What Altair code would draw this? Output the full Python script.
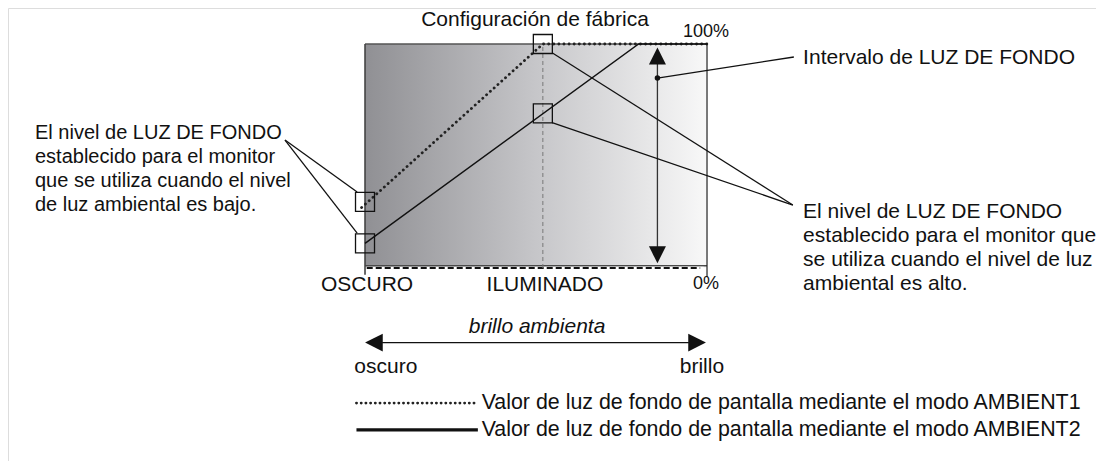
import altair as alt
import pandas as pd

# ---------------- data (diagram units: ambient 0-100 on x, backlight 0-100 % on y) ----------------
ambient1_x = [-1, 52, 100]
ambient1_y = [27, 100, 100]
ambient2_x = [0, 80, 100]
ambient2_y = [11, 100, 100]
iluminado_x = 52
marker_x = [0, 0, 52, 52]
marker_y = [29.5, 11, 100, 69]
range_x = 85.5
range_lo, range_hi = 9.4, 91.1

title_text = "Configuración de fábrica"
pct_labels = ["100%", "0%"]
axis_labels = ["OSCURO", "ILUMINADO"]
left_lines = ["El nivel de LUZ DE FONDO", "establecido para el monitor",
              "que se utiliza cuando el nivel", "de luz ambiental es bajo."]
right_lines = ["El nivel de LUZ DE FONDO", "establecido para el monitor que",
               "se utiliza cuando el nivel de luz", "ambiental es alto."]
range_label = "Intervalo de LUZ DE FONDO"
ambient_title = "brillo ambienta"
ambient_ends = ["oscuro", "brillo"]
legend_texts = ["Valor de luz de fondo de pantalla mediante el modo AMBIENT1",
                "Valor de luz de fondo de pantalla mediante el modo AMBIENT2"]

# ---------------- layout ----------------
FONT = "Liberation Sans"
xs = alt.Scale(domain=[-104.39, 213.74], nice=False, zero=False)
ys = alt.Scale(domain=[-86.16, 116.07], nice=False, zero=False)
X = lambda f="x": alt.X(f"{f}:Q", scale=xs, axis=None)
Y = lambda f="y": alt.Y(f"{f}:Q", scale=ys, axis=None)
LINE_STEP = 10.71  # one text line (24 px) in y units


def rules(segs, **style):
    df = pd.DataFrame(segs, columns=["x", "y", "x2", "y2"])
    return alt.Chart(df).mark_rule(**style).encode(
        x=X(), y=Y(), x2="x2:Q", y2="y2:Q")


def texts(rows, **style):
    df = pd.DataFrame(rows, columns=["x", "y", "t"])
    base = dict(font=FONT, fontSize=21, color="#111", baseline="middle")
    base.update(style)
    return alt.Chart(df).mark_text(**base).encode(x=X(), y=Y(), text="t:N")


def points(rows, **style):
    df = pd.DataFrame(rows, columns=["x", "y"])
    return alt.Chart(df).mark_point(**style).encode(x=X(), y=Y())


layers = []

# gradient panel
panel = pd.DataFrame({"x": [0], "x2": [100], "y": [0], "y2": [100]})
layers.append(alt.Chart(panel).mark_rect(
    color=alt.Gradient(gradient="linear", x1=0, x2=1, y1=0, y2=0,
                       stops=[alt.GradientStop(offset=0, color="#909094"),
                              alt.GradientStop(offset=0.5, color="#c6c6c9"),
                              alt.GradientStop(offset=1, color="#f8f8f8")])
).encode(x=X(), x2="x2:Q", y=Y(), y2="y2:Q"))

# panel frame
layers.append(rules([[0, 1.0, 100, 1.0]], color="#4a4a4a", strokeWidth=1.5))
layers.append(rules([[0, 0, 99, 0]], color="white", strokeWidth=2.5))
layers.append(rules([[0.5, 0, 98, 0]], color="#111", strokeWidth=2.2, strokeDash=[6, 3]))
layers.append(rules([[0, 100, 100, 100]], color="#555", strokeWidth=1.5))
layers.append(rules([[0, -3, 0, 100]], color="#444", strokeWidth=1.6))
layers.append(rules([[100, -4, 100, 100]], color="#222", strokeWidth=1.2))
layers.append(rules([[iluminado_x, 0, iluminado_x, 100]], color="#777", strokeWidth=1, strokeDash=[4, 3]))

# curves
c1 = pd.DataFrame({"x": ambient1_x, "y": ambient1_y, "o": range(len(ambient1_x))})
c2 = pd.DataFrame({"x": ambient2_x, "y": ambient2_y, "o": range(len(ambient2_x))})
layers.append(alt.Chart(c1).mark_line(color="#222", strokeWidth=2.8, strokeDash=[0.1, 5],
                                      strokeCap="round").encode(x=X(), y=Y(), order="o:Q"))
layers.append(alt.Chart(c2).mark_line(color="#111", strokeWidth=1.4).encode(x=X(), y=Y(), order="o:Q"))

# boxes
mk = pd.DataFrame({"x": marker_x, "y": marker_y})
layers.append(alt.Chart(mk).mark_square(filled=False, size=361, stroke="#111", strokeWidth=1.3,
                                        opacity=1).encode(x=X(), y=Y()))

# range arrow
layers.append(rules([[range_x, range_lo, range_x, range_hi]], color="#333", strokeWidth=1.3))
layers.append(points([[range_x, 94.6]], shape="M0,-1L1,1L-1,1Z", filled=True, size=289,
                     color="#111", opacity=1, strokeWidth=0))
layers.append(points([[range_x, 5.9]], shape="M0,1L1,-1L-1,-1Z", filled=True, size=289,
                     color="#111", opacity=1, strokeWidth=0))
layers.append(points([[range_x, 84.8]], shape="circle", filled=True, size=30, color="#111", opacity=1))

# leader lines
layers.append(rules([[range_x, 84.8, 125.4, 94.2],
                     [54.7, 96.1, 125.1, 28.1],
                     [54.7, 64.9, 125.1, 28.1],
                     [-23.4, 57.1, -2.3, 33.9],
                     [-23.4, 57.1, -2.3, 15.6]], color="#111", strokeWidth=1.3))

# ambient brightness arrow
layers.append(rules([[5.0, -33.3, 94.7, -33.3]], color="#111", strokeWidth=1.3))
layers.append(points([[2.6, -33.3]], shape="M-1,0L1,-1L1,1Z", filled=True, size=313,
                     color="#111", opacity=1, strokeWidth=0))
layers.append(points([[97.1, -33.3]], shape="M1,0L-1,-1L-1,1Z", filled=True, size=313,
                     color="#111", opacity=1, strokeWidth=0))

# legend lines
layers.append(rules([[-2.5, -60.3, 33.0, -60.3]], color="#222", strokeWidth=2.8,
                    strokeDash=[0.1, 4.6], strokeCap="round"))
layers.append(rules([[-2.5, -72.3, 33.0, -72.3]], color="#111", strokeWidth=3.2))

# texts
layers.append(texts([[49.7, 110.7, title_text]], align="center"))
layers.append(texts([[99.7, 105.4, pct_labels[0]], [99.7, -7.1, pct_labels[1]]],
                    align="center", fontSize=18))
layers.append(texts([[0.6, -7.6, axis_labels[0]], [52.6, -7.6, axis_labels[1]]], align="center"))
layers.append(texts([[-96.5, 60.3 - LINE_STEP * i, t] for i, t in enumerate(left_lines)],
                    align="left", fontSize=20))
layers.append(texts([[128.1, 25.0 - LINE_STEP * i, t] for i, t in enumerate(right_lines)], align="left"))
layers.append(texts([[128.1, 93.75, range_label]], align="left"))
layers.append(texts([[50.3, -26.2, ambient_title]], align="center", fontStyle="italic"))
layers.append(texts([[6.1, -44.1, ambient_ends[0]], [98.5, -44.1, ambient_ends[1]]], align="center"))
layers.append(texts([[34.1, -60.3, legend_texts[0]], [34.1, -72.3, legend_texts[1]]],
                    align="left", fontSize=21.4))

chart = alt.layer(*layers).properties(
    width=1088, height=453, padding=0, autosize=alt.AutoSizeParams(type="none")
).configure_view(stroke=None).configure(background="white")

chart.save("out.html", embed_options={"renderer": "svg", "actions": False})
